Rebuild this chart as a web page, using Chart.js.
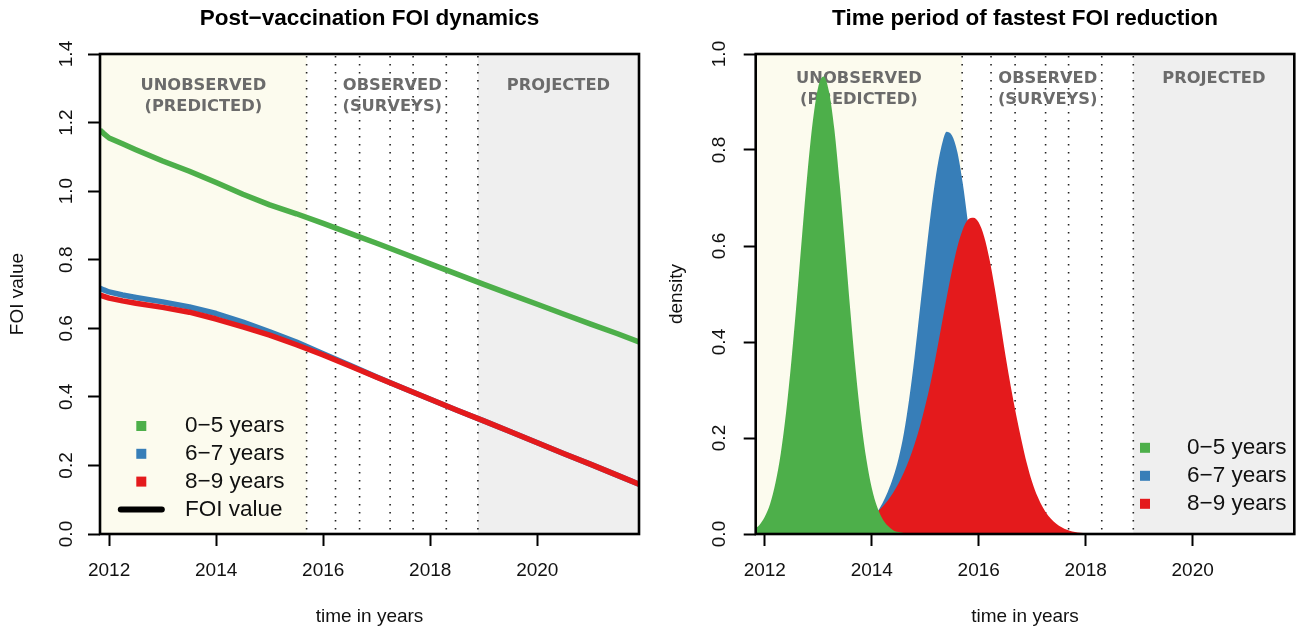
<!DOCTYPE html>
<html>
<head>
<meta charset="utf-8">
<script src="https://cdn.jsdelivr.net/npm/chart.js@4.4.1/dist/chart.umd.min.js"></script>
<style>
  html, body { margin: 0; padding: 0; background: #ffffff; }
  #wrap { position: relative; width: 1297px; height: 631px; overflow: hidden; }
  #foiChart { position: absolute; left: 0; top: 0; }
  #densityChart { position: absolute; left: 650px; top: 0; }
</style>
</head>
<body>
<div id="wrap">
  <canvas id="foiChart" width="650" height="631"></canvas>
  <canvas id="densityChart" width="647" height="631"></canvas>
</div>
<script>
// ---- data -------------------------------------------------------------
const ageGroups = ['0\u22125 years', '6\u22127 years', '8\u22129 years'];
const foiLegendLabel = 'FOI value';

const timeMin = 2011.83;
const timeMax = 2021.9;
const yearTicks = [2012, 2014, 2016, 2018, 2020];
const foiTicks = [0, 0.2, 0.4, 0.6, 0.8, 1.0, 1.2, 1.4];
const densityTicks = [0, 0.2, 0.4, 0.6, 0.8, 1.0];

// survey rounds (dotted verticals); first/last bound the observed period
const surveyTimes = [2015.69, 2016.23, 2016.68, 2017.25, 2017.68, 2018.30, 2018.89];
const periodNames = [['UNOBSERVED', '(PREDICTED)'], ['OBSERVED', '(SURVEYS)'], ['PROJECTED']];

// post-vaccination force of infection by age group
const foiYears = [2011.83, 2011.9, 2012.0, 2012.25, 2012.5, 2013.0, 2013.5, 2014.0, 2014.5, 2015.0,
  2015.5, 2016.0, 2016.5, 2017.0, 2017.5, 2018.0, 2018.5, 2019.0, 2019.5, 2020.0, 2020.5, 2021.0,
  2021.5, 2021.9];
const foiAge0to5 = [1.178, 1.168, 1.155, 1.138, 1.121, 1.088, 1.058, 1.025, 0.991, 0.960, 0.934,
  0.906, 0.877, 0.848, 0.818, 0.788, 0.758, 0.728, 0.699, 0.670, 0.641, 0.612, 0.584, 0.560];
const foiAge6to7 = [0.717, 0.712, 0.706, 0.697, 0.690, 0.677, 0.662, 0.643, 0.618, 0.590, 0.560,
  0.526, 0.492, 0.458, 0.425, 0.393, 0.361, 0.330, 0.298, 0.266, 0.234, 0.203, 0.171, 0.145];
const foiAge8to9 = [0.697, 0.693, 0.688, 0.680, 0.673, 0.661, 0.647, 0.627, 0.604, 0.580, 0.552,
  0.522, 0.490, 0.457, 0.425, 0.393, 0.361, 0.330, 0.298, 0.266, 0.234, 0.203, 0.171, 0.145];

// density of the time of fastest FOI reduction
const densYears0to5 = [2011.83, 2011.9, 2012.0, 2012.1, 2012.2, 2012.3, 2012.4, 2012.5, 2012.6, 2012.7,
  2012.8, 2012.9, 2013.0, 2013.1, 2013.2, 2013.3, 2013.4, 2013.5, 2013.6, 2013.7, 2013.8, 2013.9,
  2014.0, 2014.1, 2014.2, 2014.3, 2014.4, 2014.5, 2014.6, 2014.7, 2014.8];
const dens0to5 = [0.012, 0.019, 0.036, 0.063, 0.107, 0.169, 0.255, 0.364, 0.490, 0.626, 0.755, 0.862,
  0.932, 0.953, 0.922, 0.844, 0.730, 0.599, 0.464, 0.340, 0.236, 0.155, 0.096, 0.057, 0.032, 0.017,
  0.008, 0.004, 0.002, 0.001, 0.0];
const densYears6to7 = [2013.6, 2013.7, 2013.8, 2013.9, 2014.0, 2014.1, 2014.2, 2014.3, 2014.4, 2014.5,
  2014.6, 2014.7, 2014.8, 2014.9, 2015.0, 2015.1, 2015.2, 2015.3, 2015.4, 2015.5, 2015.6, 2015.7,
  2015.8, 2015.9, 2016.0, 2016.1, 2016.2, 2016.3, 2016.4, 2016.5, 2016.6, 2016.7, 2016.8, 2016.9,
  2017.0, 2017.1, 2017.2, 2017.3, 2017.4];
const dens6to7 = [0.003, 0.006, 0.011, 0.019, 0.030, 0.045, 0.064, 0.088, 0.118, 0.157, 0.210, 0.282,
  0.369, 0.468, 0.569, 0.665, 0.747, 0.806, 0.838, 0.830, 0.796, 0.732, 0.647, 0.549, 0.448, 0.351,
  0.264, 0.191, 0.133, 0.089, 0.057, 0.035, 0.021, 0.012, 0.006, 0.003, 0.002, 0.001, 0.0];
const densYears8to9 = [2013.8, 2013.9, 2014.0, 2014.1, 2014.2, 2014.3, 2014.4, 2014.5, 2014.6, 2014.7,
  2014.8, 2014.9, 2015.0, 2015.1, 2015.2, 2015.3, 2015.4, 2015.5, 2015.6, 2015.7, 2015.8, 2015.9,
  2016.0, 2016.1, 2016.2, 2016.3, 2016.4, 2016.5, 2016.6, 2016.7, 2016.8, 2016.9, 2017.0, 2017.1,
  2017.2, 2017.3, 2017.4, 2017.5, 2017.6, 2017.7, 2017.8, 2017.9, 2018.0, 2018.1];
const dens8to9 = [0.025, 0.030, 0.037, 0.046, 0.057, 0.070, 0.086, 0.105, 0.128, 0.155, 0.187, 0.224,
  0.267, 0.315, 0.372, 0.432, 0.492, 0.549, 0.598, 0.634, 0.655, 0.659, 0.649, 0.620, 0.573, 0.512,
  0.443, 0.372, 0.307, 0.248, 0.195, 0.147, 0.108, 0.078, 0.055, 0.038, 0.026, 0.017, 0.011, 0.007,
  0.004, 0.0025, 0.0012, 0.0];

// ---- styles -----------------------------------------------------------
const groupColors = ['#4daf4a', '#377eb8', '#e41a1c'];
const SANS = "'Liberation Sans', Arial, Helvetica, sans-serif";
const LABEL_FONT = "'DejaVu Sans', sans-serif";
const INK = '#111111';
const unobservedFill = '#fcfbee';
const projectedFill = '#efefef';

const pairs = (xs, ys) => xs.map((x, i) => ({ x, y: ys[i] }));

// shaded periods, survey verticals and period captions
const periodsPlugin = {
  id: 'periods',
  beforeDatasetsDraw(chart, args, opts) {
    const { ctx, chartArea: a, scales: { x, y } } = chart;
    const first = x.getPixelForValue(surveyTimes[0]);
    const last = x.getPixelForValue(surveyTimes[surveyTimes.length - 1]);
    ctx.save();
    ctx.beginPath();
    ctx.rect(a.left, a.top, a.width, a.height);
    ctx.clip();
    ctx.fillStyle = unobservedFill;
    ctx.fillRect(a.left, a.top, first - a.left, a.height);
    ctx.fillStyle = projectedFill;
    ctx.fillRect(last, a.top, a.right - last, a.height);

    ctx.strokeStyle = '#222222';
    ctx.lineWidth = 1.6;
    ctx.setLineDash([1.6, 6.4]);
    surveyTimes.forEach(t => {
      const px = x.getPixelForValue(t);
      ctx.beginPath();
      ctx.moveTo(px, a.top + 2);
      ctx.lineTo(px, a.bottom);
      ctx.stroke();
    });
    ctx.setLineDash([]);

    const bounds = [[a.left, first], [first, last], [last, a.right]];
    ctx.fillStyle = '#6b6b6b';
    ctx.font = 'bold 16.3px ' + LABEL_FONT;
    ctx.textAlign = 'center';
    ctx.textBaseline = 'middle';
    periodNames.forEach((lines, i) => {
      const cx = (bounds[i][0] + bounds[i][1]) / 2;
      lines.forEach((line, j) => {
        ctx.fillText(line, cx, y.getPixelForValue(opts.labelY[j]));
      });
    });
    ctx.restore();
  }
};

// plot frame
const framePlugin = {
  id: 'frame',
  afterDatasetsDraw(chart) {
    const { ctx, chartArea: a } = chart;
    ctx.save();
    ctx.strokeStyle = '#000000';
    ctx.lineWidth = 2.6;
    ctx.strokeRect(a.left, a.top, a.width, a.height);
    ctx.restore();
  }
};

// legend drawn inside the plotting region
const insetLegendPlugin = {
  id: 'insetLegend',
  afterDraw(chart, args, opts) {
    const { ctx, chartArea: a } = chart;
    ctx.save();
    ctx.font = opts.fontSize + 'px ' + SANS;
    ctx.textAlign = 'left';
    ctx.textBaseline = 'middle';
    opts.items.forEach((item, i) => {
      const yy = a.bottom - opts.bottomOffset + i * opts.rowGap;
      const mx = a.left + opts.markerX;
      if (item.kind === 'line') {
        ctx.strokeStyle = item.color;
        ctx.lineWidth = 6;
        ctx.lineCap = 'round';
        ctx.beginPath();
        ctx.moveTo(mx - 20.5, yy);
        ctx.lineTo(mx + 20.5, yy);
        ctx.stroke();
      } else {
        ctx.fillStyle = item.color;
        ctx.fillRect(mx - 5, yy - 5, 10, 10);
      }
      ctx.fillStyle = INK;
      ctx.fillText(item.text, a.left + opts.textX, yy);
    });
    ctx.restore();
  }
};

function axes(cfg) {
  const tickFont = { family: SANS, size: 19 };
  const gridOpts = {
    display: true, drawOnChartArea: false, drawTicks: true,
    tickLength: 12, tickWidth: 2, tickColor: '#000000', color: '#000000'
  };
  return {
    x: {
      type: 'linear', min: timeMin, max: timeMax,
      afterBuildTicks: s => { s.ticks = yearTicks.map(v => ({ value: v })); },
      afterFit: s => { s.height = 97; },
      grid: gridOpts,
      border: { display: false },
      ticks: {
        font: tickFont, color: INK, padding: 13, autoSkip: false,
        minRotation: 0, maxRotation: 0, callback: v => String(v)
      },
      title: {
        display: true, text: 'time in years', color: INK,
        font: { family: SANS, size: 19 }, padding: { top: 0, bottom: 2.6 }
      }
    },
    y: {
      type: 'linear', min: 0, max: cfg.yMax,
      afterBuildTicks: s => { s.ticks = cfg.yTicks.map(v => ({ value: v })); },
      afterFit: s => { s.width = cfg.yWidth; },
      grid: gridOpts,
      border: { display: false },
      ticks: {
        font: tickFont, color: INK, padding: cfg.yPad, autoSkip: false,
        minRotation: 90, maxRotation: 90, crossAlign: 'center',
        callback: v => Number(v).toFixed(1)
      },
      title: {
        display: true, text: cfg.yTitle, color: INK,
        font: { family: SANS, size: 19 }, padding: { top: cfg.yTitlePad, bottom: 0 }
      }
    }
  };
}

function titleOpts(text) {
  return {
    display: true, text, fullSize: false, color: '#000000',
    font: { family: SANS, size: 22.5, weight: 'bold' },
    padding: { top: 4.8, bottom: 22.2 }
  };
}

// ---- left: FOI trajectories -------------------------------------------
const foiSeries = [foiAge0to5, foiAge6to7, foiAge8to9];
new Chart(document.getElementById('foiChart'), {
  type: 'line',
  data: {
    datasets: foiSeries.map((vals, i) => ({
      label: ageGroups[i],
      data: pairs(foiYears, vals),
      borderColor: groupColors[i],
      backgroundColor: groupColors[i],
      borderWidth: 5.5,
      pointRadius: 0,
      fill: false,
      tension: 0,
      borderJoinStyle: 'round',
      clip: 0,
      order: 2 - i
    }))
  },
  options: {
    responsive: false, animation: false, devicePixelRatio: 1,
    layout: { padding: { left: 0, right: 11, top: 0, bottom: 0 } },
    scales: axes({ yMax: 1.4, yTicks: foiTicks, yWidth: 100, yPad: 8.1, yTitle: 'FOI value', yTitlePad: 6.6 }),
    plugins: {
      legend: { display: false },
      tooltip: { enabled: false },
      title: titleOpts('Post\u2212vaccination FOI dynamics'),
      periods: { labelY: [1.307, 1.247] },
      insetLegend: {
        fontSize: 22.5, markerX: 41.3, textX: 85, bottomOffset: 108, rowGap: 27.8,
        items: ageGroups.map((t, i) => ({ text: t, color: groupColors[i], kind: 'box' }))
          .concat([{ text: foiLegendLabel, color: '#000000', kind: 'line' }])
      }
    }
  },
  plugins: [periodsPlugin, framePlugin, insetLegendPlugin]
});

// ---- right: timing of fastest reduction ---------------------------------
const densSeries = [pairs(densYears0to5, dens0to5), pairs(densYears6to7, dens6to7), pairs(densYears8to9, dens8to9)];
const densOrder = [0, 2, 1];
new Chart(document.getElementById('densityChart'), {
  type: 'line',
  data: {
    datasets: densSeries.map((pts, i) => ({
      label: ageGroups[i],
      data: pts,
      borderColor: groupColors[i],
      backgroundColor: groupColors[i],
      borderWidth: 0,
      pointRadius: 0,
      fill: 'origin',
      cubicInterpolationMode: 'monotone',
      clip: 0,
      order: densOrder[i]
    }))
  },
  options: {
    responsive: false, animation: false, devicePixelRatio: 1,
    layout: { padding: { left: 0, right: 2.7, top: 0, bottom: 0 } },
    scales: axes({ yMax: 1.0, yTicks: densityTicks, yWidth: 105.7, yPad: 10.5, yTitle: 'density', yTitlePad: 15.6 }),
    plugins: {
      legend: { display: false },
      tooltip: { enabled: false },
      title: titleOpts('Time period of fastest FOI reduction'),
      periods: { labelY: [0.949, 0.905] },
      insetLegend: {
        fontSize: 22.5, markerX: 389.3, textX: 431.3, bottomOffset: 86.2, rowGap: 28,
        items: ageGroups.map((t, i) => ({ text: t, color: groupColors[i], kind: 'box' }))
      }
    }
  },
  plugins: [periodsPlugin, framePlugin, insetLegendPlugin]
});
</script>
</body>
</html>
